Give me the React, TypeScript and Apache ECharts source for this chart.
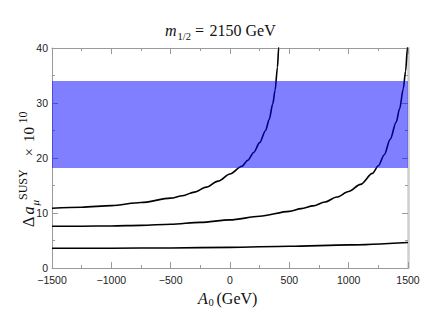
import React, { useEffect, useRef } from "react";
import * as echarts from "echarts";

// x range and ticks (GeV)
const xMin = -1500;
const xMax = 1500;
const xStep = 500;
// y range and ticks
const yMin = 0;
const yMax = 40;
const yStep = 10;

// experimental band (Δa_μ × 10^10)
const bandLow = 18.2;
const bandHigh = 34.0;

// curves [A0, Δa_μ^SUSY × 10^10]
const curveTop: [number, number][] = [
  [-1500, 10.85], [-1250, 11.05], [-1000, 11.35], [-750, 11.9], [-500, 12.7],
  [-400, 13.15], [-300, 13.8], [-200, 14.7], [-100, 15.8], [0, 17.1],
  [100, 18.5], [150, 19.6], [200, 21.0], [250, 22.8], [300, 25.0],
  [330, 27.0], [360, 29.8], [380, 32.3], [400, 36.5], [410, 40.0], [420, 43.5],
];
const curveMid: [number, number][] = [
  [-1500, 7.6], [-1250, 7.6], [-1000, 7.65], [-750, 7.75], [-500, 7.95],
  [-250, 8.3], [0, 8.75], [250, 9.4], [500, 10.3], [600, 10.8], [700, 11.3],
  [800, 12.0], [900, 12.9], [1000, 13.9], [1100, 15.2], [1200, 17.2],
  [1250, 18.6], [1300, 20.6], [1350, 23.4], [1400, 26.5], [1430, 29.0],
  [1460, 32.6], [1480, 35.8], [1495, 40.0], [1505, 43.0],
];
const curveLow: [number, number][] = [
  [-1500, 3.6], [-1000, 3.6], [-500, 3.65], [0, 3.75], [500, 3.95],
  [1000, 4.2], [1500, 4.65],
];

const SERIF = '"Liberation Serif", "Times New Roman", serif';
const SANS = '"Liberation Sans", Arial, sans-serif';

function txt(text: string, x: number, y: number, font: string, extra: any = {}) {
  return {
    type: "text",
    x,
    y,
    silent: true,
    style: {
      text,
      font,
      fill: "#111",
      textAlign: "left",
      align: "left",
      textVerticalAlign: "middle",
      verticalAlign: "middle",
      ...extra,
    },
  };
}

export default function App() {
  const ref = useRef<HTMLDivElement>(null);
  useEffect(() => {
    if (!ref.current) return;
    const chart = echarts.init(ref.current, null, { renderer: "svg" });
    const frame = "#9a9a9a";
    const lineSeries = (data: [number, number][]) => ({
      type: "line",
      xAxisIndex: 0,
      yAxisIndex: 0,
      data,
      showSymbol: false,
      symbol: "none",
      smooth: 0.3,
      smoothMonotone: "x",
      clip: true,
      lineStyle: { color: "#000", width: 1.6 },
      z: 2,
      silent: true,
    });
    const ticks = {
      axisTick: { show: true, inside: true, length: 6, lineStyle: { color: frame } },
      minorTick: { show: true, splitNumber: 2, length: 3, lineStyle: { color: frame } },
      splitLine: { show: false },
    };
    const option: any = {
      animation: false,
      grid: { left: 52, right: 28, top: 48, bottom: 59, containLabel: false },
      xAxis: [
        {
          type: "value",
          position: "bottom",
          min: xMin,
          max: xMax,
          interval: xStep,
          axisLine: { show: true, onZero: false, lineStyle: { color: frame, width: 1 } },
          ...ticks,
          axisLabel: {
            margin: 6,
            fontFamily: SANS,
            fontSize: 10.5,
            color: "#222",
            formatter: (v: number) => (v < 0 ? "\u2212" + Math.abs(v) : String(v)),
          },
        },
        {
          type: "value",
          position: "top",
          min: xMin,
          max: xMax,
          interval: xStep,
          axisLine: { show: true, onZero: false, lineStyle: { color: frame, width: 1 } },
          ...ticks,
          axisLabel: { show: false },
        },
      ],
      yAxis: [
        {
          type: "value",
          position: "left",
          min: yMin,
          max: yMax,
          interval: yStep,
          axisLine: { show: true, onZero: false, lineStyle: { color: frame, width: 1 } },
          ...ticks,
          axisLabel: { margin: 4, fontFamily: SANS, fontSize: 10.5, color: "#222" },
        },
        {
          type: "value",
          position: "right",
          min: yMin,
          max: yMax,
          interval: yStep,
          axisLine: { show: true, onZero: false, lineStyle: { color: "#cfcfcf", width: 2.5 } },
          ...ticks,
          axisLabel: { show: false },
        },
      ],
      series: [
        lineSeries(curveTop),
        lineSeries(curveMid),
        lineSeries(curveLow),
        {
          type: "custom",
          xAxisIndex: 0,
          yAxisIndex: 0,
          z: 10,
          silent: true,
          data: [[xMin, xMax, bandLow, bandHigh]],
          encode: { x: [0, 1], y: [2, 3] },
          renderItem: (_params: any, api: any) => {
            const p1 = api.coord([api.value(0), api.value(3)]);
            const p2 = api.coord([api.value(1), api.value(2)]);
            return {
              type: "rect",
              shape: { x: p1[0], y: p1[1], width: p2[0] - p1[0], height: p2[1] - p1[1] },
              style: { fill: "rgba(0,0,255,0.5)" },
            };
          },
        },
      ],
      graphic: [
        // title
        txt("m", 165, 30.5, `italic 16px ${SERIF}`),
        txt("1/2", 177.5, 36, `10.5px ${SERIF}`),
        txt("=", 195, 30.5, `16px ${SERIF}`),
        txt("2150 GeV", 209.5, 30.5, `16px ${SERIF}`),
        // x-axis name
        txt("A", 198, 298.5, `italic 16px ${SERIF}`),
        txt("0", 208.5, 302.5, `10.5px ${SERIF}`),
        txt("(GeV)", 216.5, 298.5, `16px ${SERIF}`),
        // y-axis name
        {
          type: "group",
          x: 28.5,
          y: 227,
          rotation: Math.PI / 2,
          silent: true,
          children: [
            txt("\u0394", 0, 0, `16px ${SERIF}`),
            txt("a", 12.5, 0, `italic 16px ${SERIF}`),
            txt("\u03bc", 21.5, 6, `italic 11px ${SERIF}`),
            txt("SUSY", 27, -5.5, `12px ${SERIF}`),
            txt("\u00d7", 70.5, 0, `15px ${SERIF}`),
            txt("10", 85, 0, `15px ${SERIF}`),
            txt("10", 103.5, -5.5, `12px ${SERIF}`),
          ],
        },
      ],
    };
    chart.setOption(option);
    return () => chart.dispose();
  }, []);
  return (
    <div
      ref={ref}
      style={{ position: "absolute", left: 0, top: 0, width: 436, height: 327, background: "#fff" }}
    />
  );
}
